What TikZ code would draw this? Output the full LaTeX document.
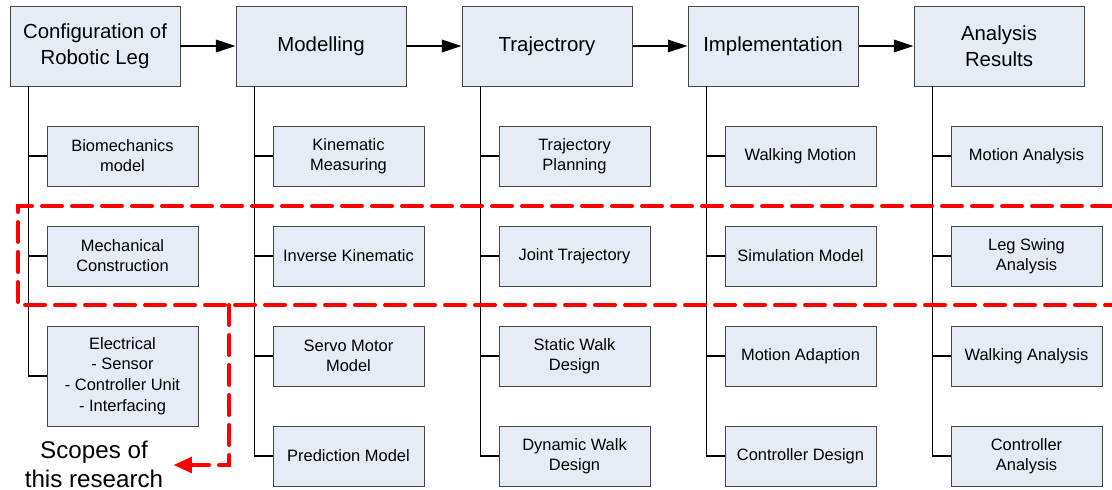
\documentclass[tikz,border=0pt]{standalone}
\usepackage{fontspec}
\setmainfont{Liberation Sans}
\usetikzlibrary{arrows.meta,calc}

\definecolor{boxfill}{RGB}{230,236,246}
\definecolor{boxline}{RGB}{70,70,70}
\definecolor{scopered}{RGB}{255,0,0}

\tikzset{
  topbox/.style={draw=boxline,fill=boxfill,line width=0.7pt,minimum width=4.25cm,minimum height=2cm,
    align=center,font=\fontsize{14.5}{18.4}\selectfont,inner sep=0pt},
  subbox/.style={draw=boxline,fill=boxfill,line width=0.7pt,minimum width=3.775cm,minimum height=1.5cm,
    align=center,font=\fontsize{11.7}{14.4}\selectfont,inner sep=0pt},
  flow/.style={line width=1pt,-{Triangle[length=14pt,width=9pt]}},
  branch/.style={line width=0.9pt},
  scopeline/.style={scopered,line width=2.8pt,dash pattern=on 0.5cm off 0.25cm}
}

\begin{document}
\begin{tikzpicture}

\useasboundingbox (0,0) rectangle (27.8,-12.25);

% main stages
\foreach \name/\txt [count=\i from 0] in {c1/{Configuration of\\Robotic Leg},c2/Modelling,c3/Trajectrory,c4/Implementation,c5/{Analysis\\Results}} {
  \node[topbox] (\name) at ({2.375+5.65*\i},-1.15) {\txt};
}

\foreach \a/\b in {c1/c2,c2/c3,c3/c4,c4/c5} {
  \draw[flow] (\a) -- (\b);
}

% column 1
\node[subbox] (r1) at (3.0625,-3.9) {Biomechanics\\model};
\node[subbox] (r2) at (3.0625,-6.4) {Mechanical\\Construction};
\node[subbox,minimum height=2.5cm,font=\fontsize{11.7}{14.6}\selectfont] (r3) at (3.0625,-9.4) {Electrical\\- Sensor\\- Controller Unit\\- Interfacing};
\foreach \j in {1,2,3} {
  \draw[branch] ([xshift=0.475cm]c1.south west) |- (r\j.west);
}

% column 2
\foreach \txt [count=\j] in {{Kinematic\\Measuring},{Inverse Kinematic},{Servo Motor\\Model},{Prediction Model}} {
  \node[subbox] (m\j) at (8.7125,{-1.4-2.5*\j}) {\txt};
  \draw[branch] ([xshift=0.475cm]c2.south west) |- (m\j.west);
}

% column 3
\foreach \txt [count=\j] in {{Trajectory\\Planning},{Joint Trajectory},{Static Walk\\Design},{Dynamic Walk\\Design}} {
  \node[subbox] (t\j) at (14.3625,{-1.4-2.5*\j}) {\txt};
  \draw[branch] ([xshift=0.475cm]c3.south west) |- (t\j.west);
}

% column 4
\foreach \txt [count=\j] in {{Walking Motion},{Simulation Model},{Motion Adaption},{Controller Design}} {
  \node[subbox] (p\j) at (20.0125,{-1.4-2.5*\j}) {\txt};
  \draw[branch] ([xshift=0.475cm]c4.south west) |- (p\j.west);
}

% column 5
\foreach \txt [count=\j] in {{Motion Analysis},{Leg Swing\\Analysis},{Walking Analysis},{Controller\\Analysis}} {
  \node[subbox] (a\j) at (25.6625,{-1.4-2.5*\j}) {\txt};
  \draw[branch] ([xshift=0.475cm]c5.south west) |- (a\j.west);
}

% scope of the research
\node[align=center,font=\fontsize{17.2}{20.5}\selectfont,inner sep=0pt] (scopes) at (2.35,-11.6) {Scopes of\\this research};
\coordinate (sc) at (5.725,-7.625);

\draw[scopeline,line cap=round] (27.8,-5.15) -- (0.45,-5.15) -- (0.45,-7.625) -- (27.8,-7.625);
\draw[scopeline,line cap=round,-{Triangle[length=13pt,width=11pt,sharp]}] (sc) |- ([xshift=0.25cm]scopes.east |- 0,-11.625);

\end{tikzpicture}
\end{document}
